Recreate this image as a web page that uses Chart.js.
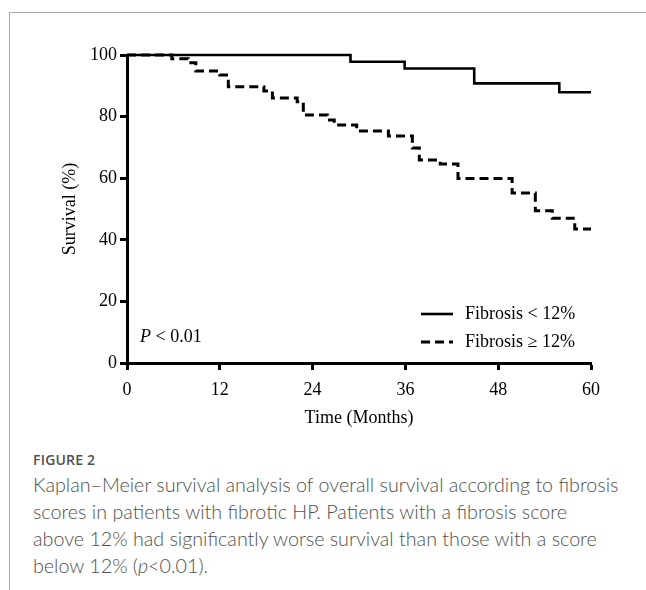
<!DOCTYPE html>
<html>
<head>
<meta charset="utf-8">
<script src="https://cdn.jsdelivr.net/npm/chart.js@4.4.1/dist/chart.umd.min.js"></script>
<style>
  body { margin: 0; background: #fff; }
  #wrap { position: relative; width: 646px; height: 590px; overflow: hidden; }
  #frameTop { position: absolute; left: 9px; top: 12px; width: 637px; height: 1px; background: #a8a8a8; }
  #frameLeft { position: absolute; left: 9px; top: 12px; width: 1px; height: 578px; background: #a8a8a8; }
  #chartBox { position: absolute; left: 0; top: 0; width: 646px; height: 440px; }
  #caption { position: absolute; left: 33px; top: 450px; width: 610px; color: #505050; font-family: Lato, "Open Sans", sans-serif; white-space: nowrap; }
  #caption .fig { font-family: "Open Sans", sans-serif; font-weight: 600; font-size: 14px; letter-spacing: 0.2px; margin-bottom: 2px; }
  #caption .txt { font-weight: 300; font-size: 19.7px; line-height: 27px; }
</style>
</head>
<body>
<div id="wrap">
  <div id="frameTop"></div>
  <div id="frameLeft"></div>
  <div id="chartBox"><canvas id="km"></canvas></div>
  <div id="caption">
    <div class="fig">FIGURE 2</div>
    <div class="txt">Kaplan–Meier survival analysis of overall survival according to fibrosis<br>scores in patients with fibrotic HP. Patients with a fibrosis score<br>above 12% had significantly worse survival than those with a score<br>below 12% (<i>p</i>&lt;0.01).</div>
  </div>
</div>
<script>
// Kaplan-Meier steps (months, survival %)
const lowMonths = [0, 28.9, 35.9, 44.9, 55.9, 60];
const lowSurvival = [100, 97.8, 95.6, 90.8, 87.9, 87.9];

const highMonths = [0, 5.8, 7.9, 8.9, 12.0, 13.1, 17.7, 18.8, 22.0, 22.8, 25.9, 26.8, 29.7, 33.8, 36.9, 37.8, 40.5, 42.8, 49.8, 52.8, 55.0, 57.9, 60];
const highSurvival = [100, 98.8, 97.5, 94.8, 93.5, 89.7, 88.3, 86.0, 84.8, 80.5, 78.9, 77.3, 75.3, 73.7, 69.8, 65.9, 64.6, 59.9, 55.2, 49.4, 47.0, 43.5, 43.5];

const seriesLabels = ['Fibrosis < 12%', 'Fibrosis \u2265 12%'];
const xTicks = [0, 12, 24, 36, 48, 60];
const yTicks = [0, 20, 40, 60, 80, 100];
const pText = '< 0.01';

const serif = "'Liberation Serif', 'Times New Roman', serif";

const toPoints = (xs, ys) => xs.map((x, i) => ({ x, y: ys[i] }));

// legend + p value drawn inside the plot area
const insideLegend = {
  id: 'insideLegend',
  afterDraw(chart) {
    const ctx = chart.ctx;
    const area = chart.chartArea;
    const ds = chart.data.datasets;
    ctx.save();
    ctx.strokeStyle = '#000';
    ctx.fillStyle = '#000';
    ctx.textBaseline = 'middle';
    ctx.font = '18px ' + serif;

    const rows = [
      { ds: ds[1], y: area.bottom - 49 },
      { ds: ds[0], y: area.bottom - 21 }
    ];
    rows.forEach(r => {
      ctx.lineWidth = r.ds.borderWidth;
      ctx.setLineDash(r.ds.borderDash || []);
      ctx.beginPath();
      ctx.moveTo(area.left + 294, r.y);
      ctx.lineTo(area.left + 326, r.y);
      ctx.stroke();
      ctx.setLineDash([]);
      ctx.fillText(r.ds.label, area.left + 338, r.y);
    });

    ctx.font = 'italic 18px ' + serif;
    ctx.fillText('P', area.left + 13, area.bottom - 26);
    const w = ctx.measureText('P ').width;
    ctx.font = '18px ' + serif;
    ctx.fillText(pText, area.left + 13 + w, area.bottom - 26);
    ctx.restore();
  }
};

const axisCommon = {
  type: 'linear',
  border: { display: true, color: '#000', width: 3 },
  grid: { display: true, drawOnChartArea: false, drawTicks: true, tickLength: 7, tickWidth: 3, tickColor: '#000' },
  ticks: { color: '#000', font: { family: serif, size: 18 } }
};

new Chart(document.getElementById('km'), {
  type: 'line',
  data: {
    datasets: [
      {
        label: seriesLabels[1],
        data: toPoints(highMonths, highSurvival),
        borderColor: '#000',
        borderWidth: 3,
        borderDash: [9, 5],
        stepped: true,
        pointRadius: 0,
        fill: false,
        clip: false,
        order: 2
      },
      {
        label: seriesLabels[0],
        data: toPoints(lowMonths, lowSurvival),
        borderColor: '#000',
        borderWidth: 2.6,
        stepped: true,
        pointRadius: 0,
        fill: false,
        clip: false,
        order: 1
      }
    ]
  },
  options: {
    responsive: true,
    maintainAspectRatio: false,
    animation: false,
    layout: { padding: { left: 0, right: 55, top: 55, bottom: 0 } },
    plugins: { legend: { display: false }, tooltip: { enabled: false } },
    scales: {
      x: {
        ...axisCommon,
        min: 0, max: 60,
        afterBuildTicks: s => { s.ticks = xTicks.map(v => ({ value: v })); },
        afterFit: s => { s.height = 77; },
        ticks: { ...axisCommon.ticks, padding: 9, maxRotation: 0 },
        title: { display: true, text: 'Time (Months)', color: '#000', font: { family: serif, size: 18 }, padding: { top: 0, bottom: 11 } }
      },
      y: {
        ...axisCommon,
        min: 0, max: 100,
        afterBuildTicks: s => { s.ticks = yTicks.map(v => ({ value: v })); },
        afterFit: s => { s.width = 127; },
        ticks: { ...axisCommon.ticks, padding: 3 },
        title: { display: true, text: 'Survival (%)', color: '#000', font: { family: serif, size: 18 }, padding: { top: 59, bottom: 0 } }
      }
    }
  },
  plugins: [insideLegend]
});
</script>
</body>
</html>
